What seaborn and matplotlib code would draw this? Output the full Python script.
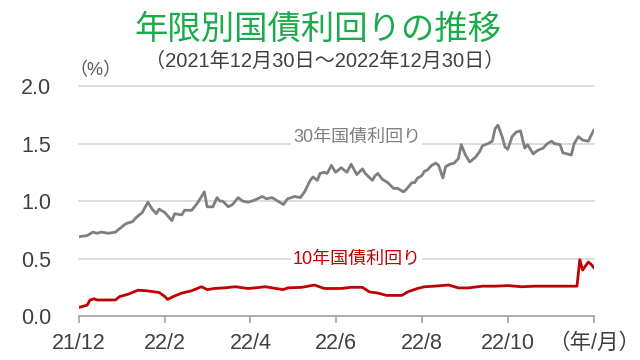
import matplotlib
matplotlib.use('Agg')
import matplotlib.pyplot as plt
import seaborn as sns
import numpy as np

# days since 2021-12-30
days_30 = [0, 6, 10, 13, 16, 21, 26, 28, 33, 35, 38, 41, 45, 49, 52, 55, 57, 61, 66, 68,
           73, 75, 80, 84, 89, 91, 95, 98, 100, 102, 106, 109, 113, 116, 120, 125, 130, 133, 137, 141,
           145, 148, 153, 157, 160, 164, 166, 169, 171, 174, 176, 179, 182, 186, 190, 193, 197, 201, 203, 208,
           210, 212, 215, 219, 223, 226, 230, 232, 236, 238, 240, 243, 245, 247, 250, 253, 255, 258, 260, 263,
           266, 269, 271, 274, 277, 281, 284, 286, 290, 293, 295, 297, 300, 302, 304, 307, 310, 313, 316, 318,
           322, 325, 329, 332, 335, 337, 341, 343, 346, 349, 351, 354, 357, 361, 365]
yield_30 = [0.69, 0.70, 0.73, 0.72, 0.73, 0.72, 0.73, 0.75, 0.80, 0.81, 0.82, 0.86, 0.90, 0.99, 0.93, 0.89, 0.93, 0.90, 0.83, 0.89,
            0.88, 0.92, 0.92, 0.98, 1.08, 0.95, 0.95, 1.03, 1.00, 1.00, 0.95, 0.97, 1.03, 1.00, 0.99, 1.01, 1.04, 1.02, 1.03, 1.00,
            0.97, 1.02, 1.04, 1.03, 1.08, 1.18, 1.21, 1.18, 1.24, 1.25, 1.24, 1.31, 1.25, 1.29, 1.25, 1.32, 1.23, 1.28, 1.24, 1.18,
            1.22, 1.24, 1.19, 1.16, 1.11, 1.11, 1.08, 1.10, 1.16, 1.16, 1.20, 1.22, 1.26, 1.27, 1.31, 1.33, 1.31, 1.20, 1.30, 1.32,
            1.33, 1.37, 1.49, 1.40, 1.34, 1.38, 1.43, 1.48, 1.50, 1.52, 1.63, 1.66, 1.56, 1.47, 1.45, 1.56, 1.60, 1.61, 1.46, 1.49,
            1.41, 1.44, 1.46, 1.50, 1.52, 1.50, 1.49, 1.42, 1.41, 1.40, 1.50, 1.56, 1.53, 1.52, 1.62]

days_10 = [0, 6, 8, 11, 13, 18, 26, 29, 35, 42, 48, 54, 57, 61, 63, 67, 73, 80, 87, 91,
           96, 103, 111, 120, 125, 132, 145, 148, 158, 167, 174, 186, 193, 201, 206, 212, 218, 223, 229, 233,
           240, 245, 252, 262, 269, 276, 286, 295, 304, 314, 323, 332, 342, 353, 355, 357, 361, 363, 365]
yield_10 = [0.075, 0.095, 0.14, 0.15, 0.14, 0.14, 0.14, 0.17, 0.19, 0.225, 0.22, 0.21, 0.205, 0.17, 0.145, 0.17, 0.20, 0.22, 0.255, 0.23,
            0.24, 0.245, 0.255, 0.24, 0.245, 0.255, 0.23, 0.245, 0.25, 0.27, 0.24, 0.24, 0.25, 0.25, 0.21, 0.20, 0.18, 0.18, 0.18, 0.21,
            0.24, 0.255, 0.26, 0.27, 0.245, 0.245, 0.26, 0.26, 0.265, 0.255, 0.26, 0.26, 0.26, 0.26, 0.49, 0.40, 0.47, 0.45, 0.42]

tick_labels = ['21/12', '22/2', '22/4', '22/6', '22/8', '22/10', '（年/月）']
y_ticks = [0.0, 0.5, 1.0, 1.5, 2.0]

sns.set_theme(style='white')
plt.rcParams['font.family'] = ['Liberation Sans', 'Noto Sans CJK JP']

fig = plt.figure(figsize=(6.4, 3.6), dpi=100)
ax = fig.add_axes([0.123, 0.122, 0.805, 0.639])

for v in y_ticks[1:]:
    ax.axhline(v, color='#d9d9d9', lw=1.3, zorder=0, clip_on=False)

sns.lineplot(x=days_30, y=yield_30, color='#7f7f7f', linewidth=2.0, ax=ax, zorder=3)
sns.lineplot(x=days_10, y=yield_10, color='#c00000', linewidth=2.0, ax=ax, zorder=3)

ax.set_xlim(0, 365)
ax.set_ylim(0, 2.0)
ax.set_xticks(np.linspace(0, 365, len(tick_labels)))
ax.set_xticklabels(tick_labels)
ax.get_xticklabels()[-1].set_fontsize(10)
ax.set_yticks(y_ticks)
ax.set_yticklabels([f'{v:.1f}' for v in y_ticks])

for s in ['left', 'right', 'top']:
    ax.spines[s].set_visible(False)
ax.spines['bottom'].set_color('#a6a6a6')
ax.spines['bottom'].set_linewidth(1.3)
ax.tick_params(axis='x', direction='out', length=5, width=1.2, color='#a6a6a6',
               pad=7, labelsize=15.5, labelcolor='#404040', bottom=True)
ax.tick_params(axis='y', length=0, pad=20, labelsize=15.5, labelcolor='#404040')
ax.set_xlabel('')
ax.set_ylabel('')

ax.text(0.54, 0.775, '30年国債利回り', transform=ax.transAxes, ha='center', va='center',
        fontsize=13, color='#7f7f7f', zorder=2,
        bbox=dict(facecolor='white', edgecolor='none', pad=1))
ax.text(0.54, 0.245, '10年国債利回り', transform=ax.transAxes, ha='center', va='center',
        fontsize=13, color='#c00000', zorder=2,
        bbox=dict(facecolor='white', edgecolor='none', pad=1))

fig.text(0.497, 1 - 30 / 360, '年限別国債利回りの推移', ha='center', va='center',
         fontsize=24, color='#1aab4b')
fig.text(0.507, 1 - 61 / 360, '（2021年12月30日～2022年12月30日）', ha='center', va='center',
         fontsize=14.5, color='#404040')
fig.text(95 / 640, 1 - 71 / 360, '（%）', ha='center', va='center', fontsize=13, color='#595959')

fig.savefig('out.png', dpi=100)
